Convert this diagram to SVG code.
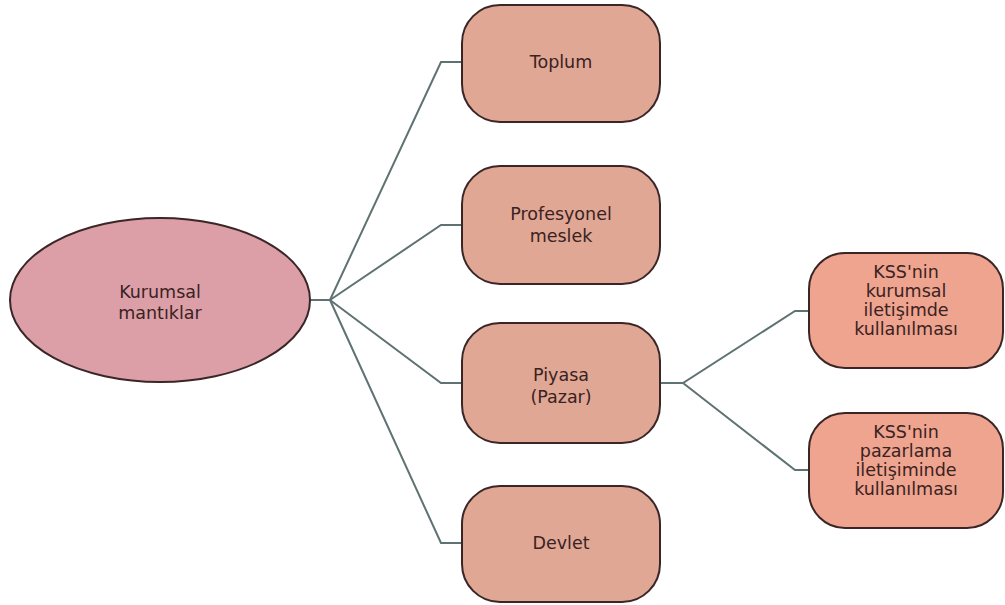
<svg xmlns="http://www.w3.org/2000/svg" width="1005" height="605" viewBox="0 0 1005 605">
<style>
.conn{fill:none;stroke:#5f7272;stroke-width:2}
.box{fill:#e0a795;stroke:#3a2626;stroke-width:2}
.box2{fill:#eea48f;stroke:#3a2626;stroke-width:2}
.ell{fill:#dc9fa8;stroke:#3a2626;stroke-width:2}
text{font-family:"DejaVu Sans",Verdana,sans-serif;fill:#3a2222;text-anchor:middle;font-size:17.5px}
</style>
<rect width="1005" height="605" fill="#ffffff"/>
<g id="connectors">
<path class="conn" d="M310,300 H330 L441,62 H462"/>
<path class="conn" d="M330,300 L441,225 H462"/>
<path class="conn" d="M330,300 L441,383 H462"/>
<path class="conn" d="M330,300 L441,543 H462"/>
<path class="conn" d="M660,383 H683 L795,311 H809"/>
<path class="conn" d="M683,383 L795,470 H809"/>
</g>
<g id="kurumsal">
<ellipse class="ell" cx="160" cy="300" rx="150" ry="82"/>
<text x="160" y="298">Kurumsal</text>
<text x="160" y="319">mantıklar</text>
</g>
<g id="toplum">
<rect class="box" x="462" y="5" width="198" height="117" rx="38" ry="38"/>
<text x="561" y="68">Toplum</text>
</g>
<g id="profesyonel">
<rect class="box" x="462" y="166" width="198" height="118" rx="38" ry="38"/>
<text x="561" y="220">Profesyonel</text>
<text x="561" y="242">meslek</text>
</g>
<g id="piyasa">
<rect class="box" x="462" y="323" width="198" height="120" rx="38" ry="38"/>
<text x="561" y="381">Piyasa</text>
<text x="561" y="403">(Pazar)</text>
</g>
<g id="devlet">
<rect class="box" x="462" y="486" width="198" height="116" rx="38" ry="38"/>
<text x="561" y="549">Devlet</text>
</g>
<g id="kss1">
<rect class="box2" x="809" y="253" width="194" height="115" rx="36" ry="36"/>
<text x="906" y="278">KSS'nin</text>
<text x="906" y="297">kurumsal</text>
<text x="906" y="316">iletişimde</text>
<text x="906" y="335">kullanılması</text>
</g>
<g id="kss2">
<rect class="box2" x="809" y="413" width="194" height="115" rx="36" ry="36"/>
<text x="906" y="438">KSS'nin</text>
<text x="906" y="457">pazarlama</text>
<text x="906" y="476">iletişiminde</text>
<text x="906" y="495">kullanılması</text>
</g>
</svg>
